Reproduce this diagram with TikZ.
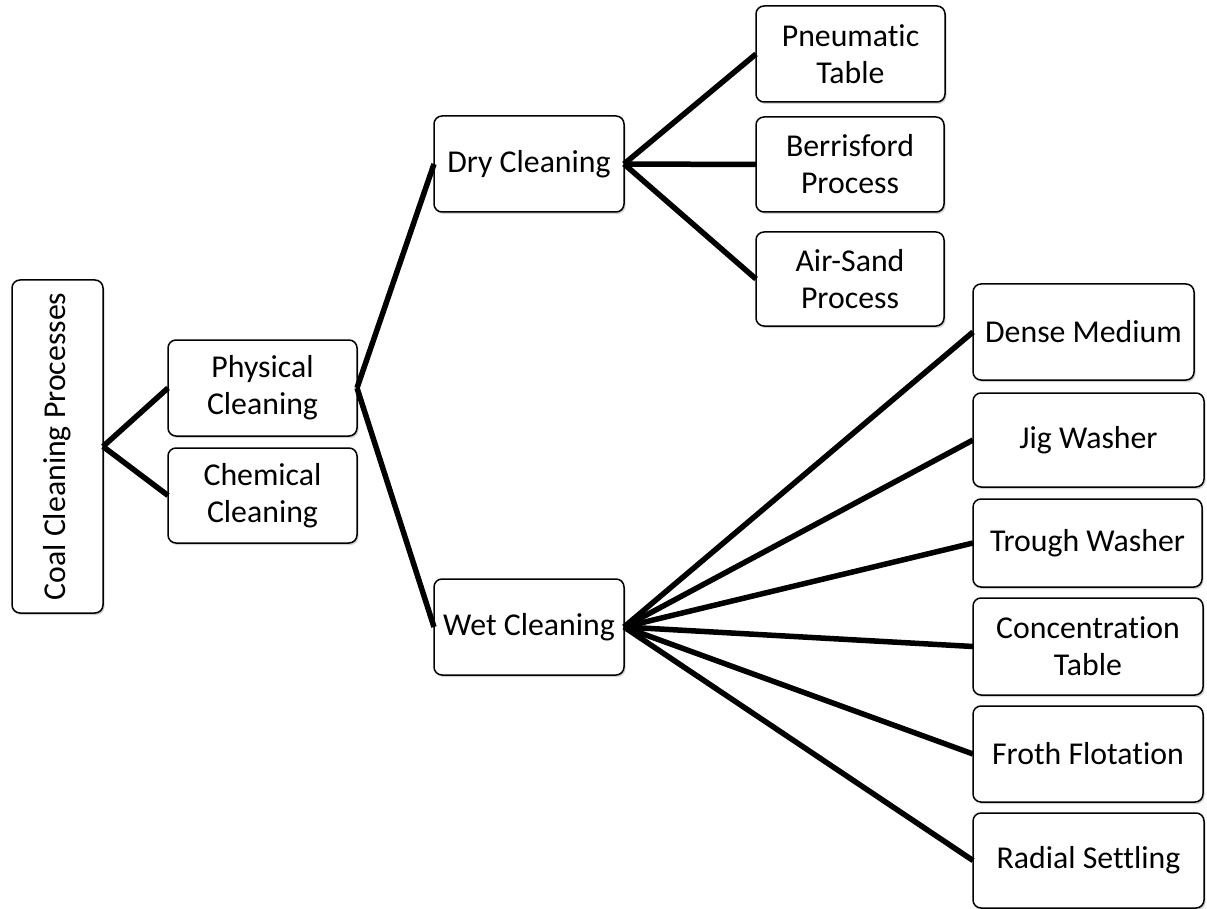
\documentclass[tikz,border=0pt]{standalone}
\usepackage{fontspec}
\setmainfont{Carlito}[Ligatures=NoCommon]
\usetikzlibrary{shadows}
\begin{document}
\begin{tikzpicture}[x=1pt,y=-1pt,
  box/.style={draw=black, line width=1.5pt, rounded corners=8pt, fill=white,
    align=center, inner sep=0pt, outer sep=0pt,
    font=\fontsize{31.8}{37}\selectfont,
    drop shadow={shadow xshift=1.5pt, shadow yshift=-2pt, opacity=0.35, fill=gray}},
  link/.style={line width=5.5pt, black}]
\useasboundingbox (0,0) rectangle (1207,909);
% level 0
\node[box, minimum width=91pt, minimum height=333pt] (coal) at (57.5,446.5) {\rotatebox{90}{Coal Cleaning Processes}};
% level 1
\node[box, minimum width=189pt, minimum height=96pt] (phys) at (262.5,388) {Physical\\Cleaning};
\node[box, minimum width=189pt, minimum height=95pt] (chem) at (262.5,495.5) {Chemical\\Cleaning};
% level 2
\node[box, minimum width=190pt, minimum height=96pt] (dry) at (529,164) {Dry Cleaning};
\node[box, minimum width=190pt, minimum height=96pt] (wet) at (529,627) {Wet Cleaning};
% level 3 dry
\node[box, minimum width=189pt, minimum height=96pt] (pneu) at (850.5,54) {Pneumatic\\Table};
\node[box, minimum width=188pt, minimum height=95pt] (berr) at (850,164.5) {Berrisford\\Process};
\node[box, minimum width=188pt, minimum height=94pt] (air) at (850,279) {Air-Sand\\Process};
% level 3 wet
\node[box, minimum width=221pt, minimum height=96pt] (dense) at (1083.5,332) {Dense Medium};
\node[box, minimum width=231pt, minimum height=94pt] (jig) at (1088.5,440) {Jig Washer};
\node[box, minimum width=229pt, minimum height=88pt] (trough) at (1087.5,543) {Trough Washer};
\node[box, minimum width=230pt, minimum height=97pt] (conc) at (1088,646.5) {Concentration\\Table};
\node[box, minimum width=230pt, minimum height=96pt] (froth) at (1088,754) {Froth Flotation};
\node[box, minimum width=231pt, minimum height=95pt] (radial) at (1088.5,860.5) {Radial Settling};
% connectors
\draw[link] (coal.east) -- (phys.west);
\draw[link] (coal.east) -- (chem.west);
\draw[link] (phys.east) -- (dry.west);
\draw[link] (phys.east) -- (wet.west);
\draw[link] (dry.east) -- (pneu.west);
\draw[link] (dry.east) -- (berr.west);
\draw[link] (dry.east) -- (air.west);
\draw[link] (wet.east) -- (dense.west);
\draw[link] (wet.east) -- (jig.west);
\draw[link] (wet.east) -- (trough.west);
\draw[link] (wet.east) -- (conc.west);
\draw[link] (wet.east) -- (froth.west);
\draw[link] (wet.east) -- (radial.west);
\end{tikzpicture}
\end{document}
